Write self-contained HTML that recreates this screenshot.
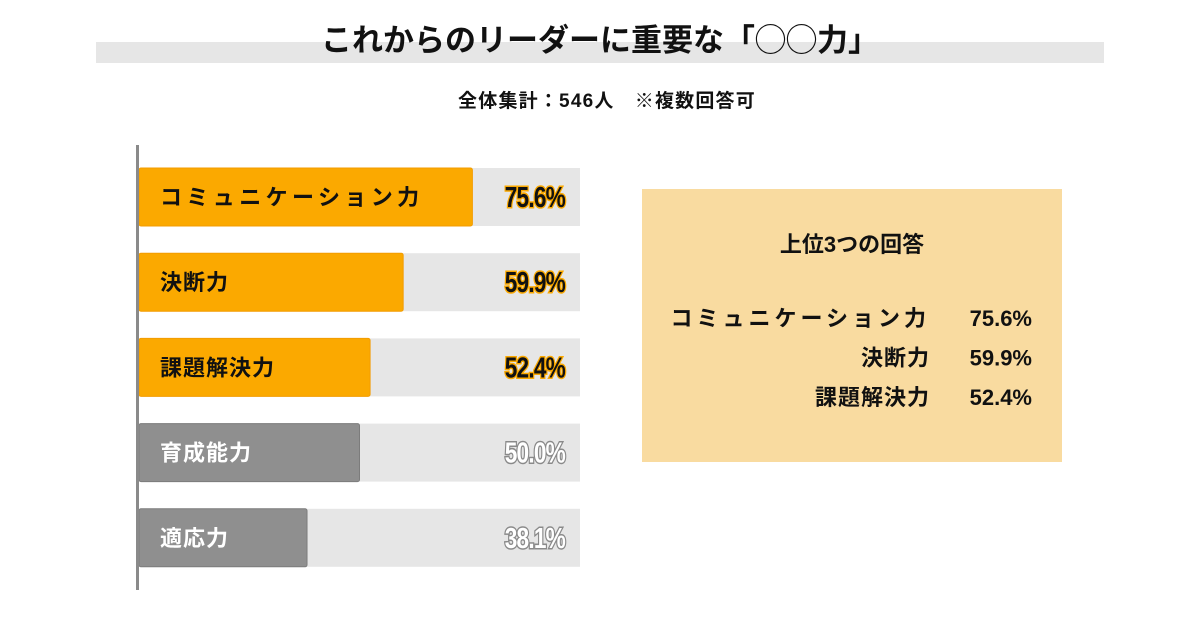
<!DOCTYPE html>
<html><head><meta charset="utf-8">
<style>
html,body{margin:0;padding:0;background:#fff;width:1200px;height:630px;overflow:hidden}
body{font-family:"Liberation Sans","Noto Sans CJK JP",sans-serif}
</style></head>
<body>
<svg id="chart" width="1200" height="630" xmlns="http://www.w3.org/2000/svg" style="position:absolute;left:0;top:0">
  <rect x="96" y="42" width="1008" height="21" fill="#e6e6e6"/>
  <text x="600" y="51" text-anchor="middle" font-size="31" font-weight="bold" fill="#111" font-family="'Liberation Sans','Noto Sans CJK JP',sans-serif">これからのリーダーに重要な「◯◯力」</text>
  <text x="607" y="107" text-anchor="middle" font-size="19" font-weight="bold" fill="#111" letter-spacing="1.2" font-family="'Liberation Sans','Noto Sans CJK JP',sans-serif">全体集計：546人　※複数回答可</text>
  <g id="bars"></g>
  <line x1="137.5" y1="145" x2="137.5" y2="590" stroke="#8a8a8a" stroke-width="3"/>
  <rect x="642" y="189" width="420" height="273" fill="#f9dba0"/>
  <text x="852" y="252" text-anchor="middle" font-size="22" font-weight="bold" fill="#111" font-family="'Liberation Sans','Noto Sans CJK JP',sans-serif">上位3つの回答</text>
  <g id="summary"></g>
</svg>
<script>
const categories = ["コミュニケーション力","決断力","課題解決力","育成能力","適応力"];
const values = [75.6, 59.9, 52.4, 50.0, 38.1];
const valueLabels = ["75.6%","59.9%","52.4%","50.0%","38.1%"];
const highlighted = [true, true, true, false, false];

const NS = "http://www.w3.org/2000/svg";
const x0 = 139, fullW = 441;
const xScale = v => fullW * v / 100;
const rowY = i => 168 + i * 85.2;
const rowH = 58;
const g = document.getElementById('bars');
const FF = "'Liberation Sans','Noto Sans CJK JP',sans-serif";
function mk(tag, attrs){const e=document.createElementNS(NS,tag);for(const k in attrs)e.setAttribute(k,attrs[k]);return e;}

categories.forEach((c, i) => {
  const y = rowY(i);
  const bg = mk('rect',{x:x0,y:y,width:fullW,height:rowH,fill:'#e6e6e6'});
  
  
  g.appendChild(bg);
  const hi = highlighted[i];
  const bar = mk('rect',{x:x0,y:y,width:xScale(values[i]),height:rowH,fill:hi?'#fba900':'#8f8f8f',stroke:hi?'#f39c00':'#7c7c7c','stroke-width':1,rx:2});
  
  
  g.appendChild(bar);
  const lab = mk('text',{x:160,y:y+rowH/2+8,'font-size':22,'font-weight':'bold',fill:hi?'#111':'#fff','font-family':FF,'letter-spacing':hi&&i===0?'4.4':'1'});
  lab.textContent = c;
  
  
  g.appendChild(lab);
  const val = mk('text',{x:565,y:y+rowH/2+10,'text-anchor':'end','font-size':29,'font-weight':'bold',fill:hi?'#111':'#fff',stroke:hi?'#fba900':'#8a8a8a','stroke-width':3,'paint-order':'stroke','font-family':"'Liberation Sans Narrow','Liberation Sans',sans-serif",transform:`translate(565 0) scale(0.78 1) translate(-565 0)`,'letter-spacing':'-1'});
  val.textContent = valueLabels[i];
  
  
  g.appendChild(val);
});

const s = document.getElementById('summary');
[0,1,2].forEach((i,k) => {
  const y = 326 + k*39.5;
  const t = mk('text',{x:930,y:y,'text-anchor':'end','font-size':22,'font-weight':'bold',fill:'#111','font-family':FF,'letter-spacing':i===0?'4':'1'});
  t.textContent = categories[i];
  
  
  s.appendChild(t);
  const v = mk('text',{x:1032,y:y,'text-anchor':'end','font-size':22,'font-weight':'bold',fill:'#111','font-family':FF});
  v.textContent = valueLabels[i];
  
  
  s.appendChild(v);
});
</script>
</body></html>
